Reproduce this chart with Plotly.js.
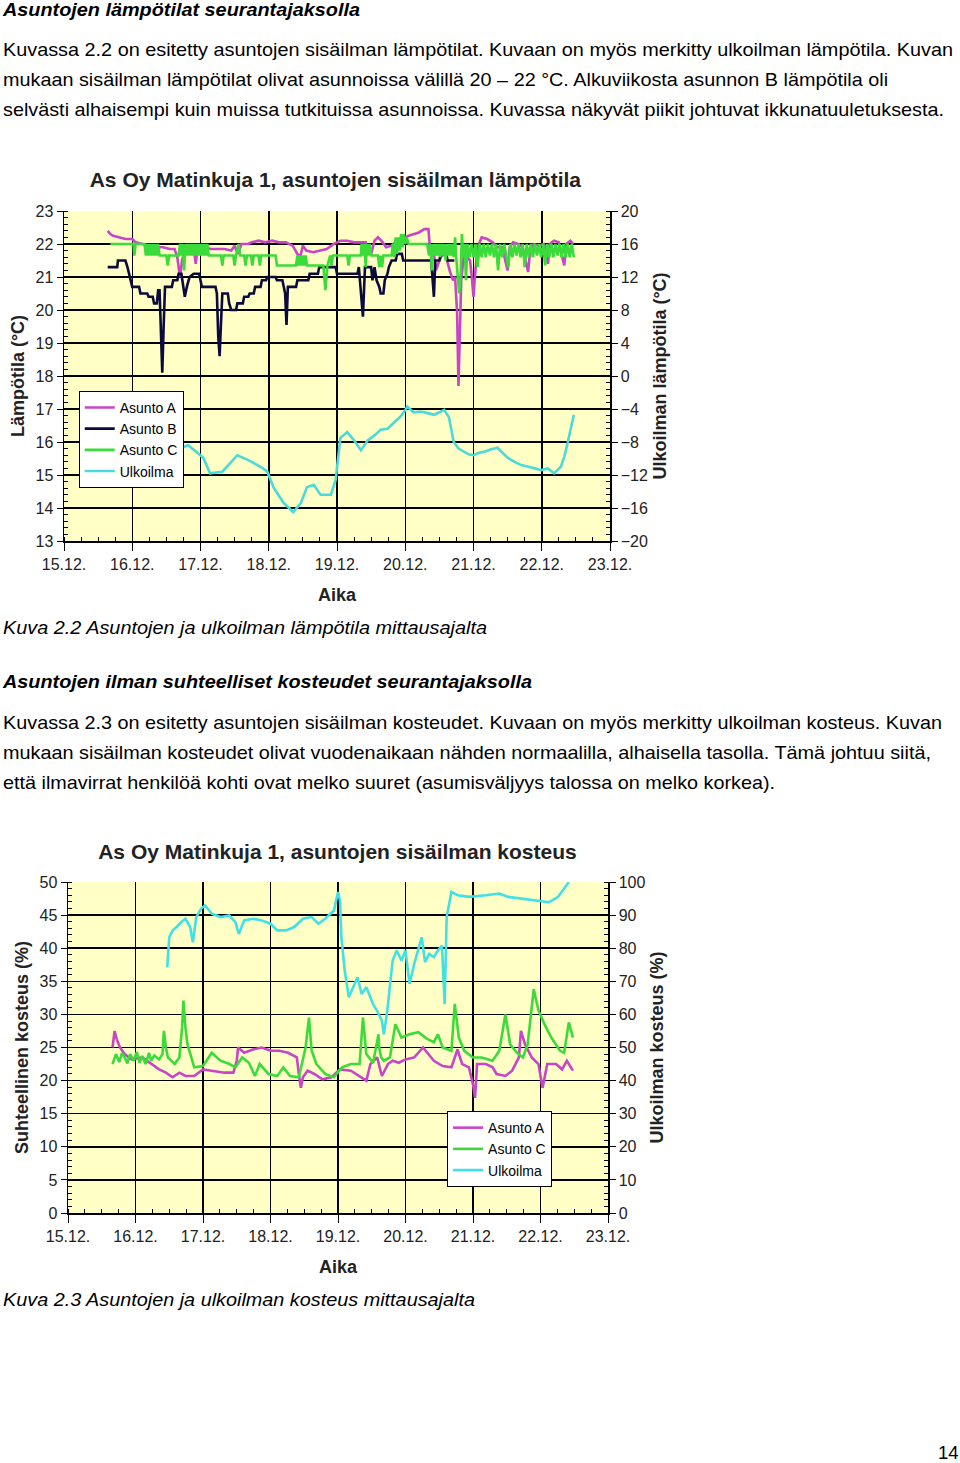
<!DOCTYPE html>
<html><head><meta charset="utf-8">
<script src="https://cdn.plot.ly/plotly-3.0.1.min.js"></script>
<style>
html,body{margin:0;padding:0;background:#fff;}
body{width:960px;height:1463px;position:relative;overflow:hidden;font-family:"Liberation Sans",Arial,sans-serif;color:#000;}
.ln{position:absolute;white-space:nowrap;font-size:18.5px;line-height:22px;height:22px;}
.ln span{display:inline-block;transform-origin:0 50%;}
.b{font-weight:bold;font-style:italic;}
.i{font-style:italic;}
#c1{position:absolute;left:0;top:160px;width:680px;height:450px;}
#c2{position:absolute;left:0;top:830px;width:680px;height:455px;}
</style></head><body>
<div id="c1"></div>
<div id="c2"></div>
<script>
// ---------- DATA ----------
const dayTicks = [15,16,17,18,19,20,21,22,23];
const dayLabels = ['15.12.','16.12.','17.12.','18.12.','19.12.','20.12.','21.12.','22.12.','23.12.'];
const seriesNames = ['Asunto A','Asunto B','Asunto C','Ulkoilma'];

// Temperature (°C), x = day of December
const tempA_x = [15.64,15.68,15.72,15.8,15.9,16.0,16.05,16.15,16.25,16.35,16.45,16.55,16.62,16.66,16.7,16.73,16.78,16.85,16.9,16.93,16.96,17.05,17.15,17.25,17.35,17.45,17.5,17.55,17.6,17.7,17.75,17.85,17.95,18.05,18.15,18.25,18.35,18.42,18.46,18.5,18.55,18.65,18.75,18.85,18.95,19.05,19.15,19.25,19.35,19.42,19.45,19.5,19.55,19.6,19.65,19.72,19.8,19.88,19.95,20.0,20.05,20.12,20.2,20.28,20.34,20.36,20.42,20.45,20.5,20.55,20.6,20.65,20.7,20.73,20.76,20.78,20.8,20.82,20.86,20.9,20.95,20.98,21.0,21.02,21.06,21.12,21.2,21.28,21.35,21.42,21.5,21.53,21.58,21.65,21.72,21.8,21.83,21.88,21.95,22.03,22.07,22.09,22.12,22.18,22.25,22.3,22.33,22.36,22.42,22.46];
const tempA_y = [22.4,22.3,22.25,22.2,22.15,22.15,22.05,22.0,21.95,21.9,21.9,21.85,21.85,21.6,21.0,21.5,21.9,21.9,21.95,21.4,21.9,21.9,21.85,21.85,21.85,21.8,21.95,21.7,22.0,22.0,22.05,22.1,22.05,22.1,22.05,22.05,21.95,21.7,21.6,21.95,21.8,21.75,21.8,21.85,22.0,22.1,22.1,22.05,22.05,22.05,21.75,21.7,22.1,22.2,22.1,21.9,21.95,22.1,22.2,22.2,22.25,22.3,22.35,22.45,22.45,21.9,21.7,21.2,21.5,21.7,21.6,21.2,20.9,21.0,19.9,17.7,19.0,20.9,21.7,21.6,21.5,20.9,20.4,21.0,21.9,22.2,22.15,22.05,21.9,21.9,21.2,21.9,22.05,22.0,21.9,21.15,21.8,22.0,21.95,22.0,21.8,21.4,22.0,22.1,22.05,21.6,21.35,22.0,22.1,22.0];

const tempB_x = [15.64,15.78,15.79,15.9,15.93,15.97,16.0,16.1,16.12,16.22,16.24,16.3,16.32,16.36,16.38,16.4,16.42,16.44,16.46,16.48,16.58,16.6,16.66,16.68,16.72,16.75,16.77,16.8,16.84,16.9,16.98,17.0,17.02,17.22,17.24,17.26,17.28,17.3,17.32,17.4,17.42,17.45,17.52,17.54,17.62,17.64,17.7,17.72,17.78,17.8,17.88,17.9,17.96,17.98,18.1,18.12,18.2,18.24,18.26,18.28,18.4,18.42,18.58,18.6,18.72,18.74,18.98,19.0,19.3,19.32,19.35,19.38,19.41,19.43,19.5,19.52,19.55,19.58,19.62,19.64,19.68,19.7,19.74,19.76,19.8,19.86,19.88,19.95,19.97,20.38,20.4,20.42,20.44,20.5,20.52,20.6,20.62,20.72];
const tempB_y = [21.3,21.3,21.5,21.5,21.3,20.9,20.7,20.7,20.5,20.5,20.4,20.4,20.2,20.2,20.6,20.6,19.3,18.1,19.5,20.7,20.7,20.9,20.9,21.1,21.1,20.6,20.4,20.7,21.0,21.1,21.1,20.9,20.7,20.7,20.5,19.2,18.6,19.6,20.5,20.5,20.2,20.0,20.0,20.2,20.2,20.4,20.4,20.5,20.5,20.7,20.7,20.9,20.9,21.0,21.0,20.9,20.9,20.5,19.55,20.7,20.7,20.9,20.9,21.1,21.1,21.3,21.3,21.1,21.1,21.3,20.5,19.8,21.3,21.3,21.3,20.9,21.3,20.9,20.7,20.5,20.5,20.9,21.1,21.3,21.5,21.5,21.7,21.7,21.5,21.5,20.9,20.4,21.5,21.5,21.7,21.7,21.5,21.5];

const tempC_x = [15.68,16.02,16.03,16.05,16.18,16.2,16.22,16.24,16.26,16.28,16.3,16.32,16.34,16.36,16.38,16.4,16.5,16.52,16.54,16.68,16.7,16.72,16.74,16.76,16.78,16.8,16.82,16.84,16.86,16.88,16.9,16.92,16.94,16.96,16.98,17.0,17.02,17.04,17.06,17.08,17.1,17.12,17.3,17.32,17.34,17.48,17.5,17.52,17.56,17.58,17.64,17.66,17.68,17.74,17.76,17.78,17.85,17.87,17.89,18.1,18.12,18.4,18.42,18.44,18.46,18.48,18.5,18.52,18.54,18.56,18.8,18.83,18.86,18.9,18.92,18.94,19.05,19.15,19.17,19.19,19.35,19.36,19.38,19.4,19.42,19.44,19.46,19.48,19.5,19.6,19.62,19.64,19.66,19.68,19.8,19.82,19.84,19.86,19.88,19.9,19.92,19.94,19.96,19.98,20.0,20.02,20.05,20.32,20.35,20.37,20.39,20.41,20.43,20.45,20.47,20.49,20.51,20.53,20.55,20.57,20.59,20.61,20.63,20.65,20.67,20.69,20.71,20.73,20.75,20.77,20.79,20.81,20.83,20.85,20.87,20.89,20.91,20.94,20.97,21.0,21.03,21.06,21.09,21.12,21.15,21.18,21.21,21.24,21.27,21.3,21.33,21.36,21.39,21.42,21.45,21.48,21.51,21.54,21.57,21.6,21.63,21.66,21.69,21.72,21.75,21.78,21.81,21.84,21.87,21.9,21.93,21.96,21.99,22.02,22.05,22.08,22.11,22.14,22.17,22.2,22.23,22.26,22.29,22.32,22.35,22.38,22.41,22.44,22.47];
const tempC_y = [22.0,22.0,21.65,22.0,22.0,21.65,22.0,21.65,22.0,21.65,22.0,21.65,22.0,21.65,22.0,21.65,21.65,21.35,21.65,21.65,22.0,21.65,22.0,21.2,22.0,21.65,22.0,21.65,22.0,21.65,22.0,21.65,22.0,21.65,22.0,21.65,22.0,21.65,22.0,21.65,22.0,21.65,21.65,21.35,21.65,21.65,21.35,21.65,22.0,21.65,21.65,21.35,21.65,21.65,21.35,21.65,21.65,21.35,21.65,21.65,21.35,21.35,21.65,21.35,21.65,21.35,21.65,21.35,21.65,21.35,21.35,20.6,21.35,21.65,21.35,21.65,21.65,21.65,21.35,21.65,21.65,22.0,21.65,22.0,21.3,22.0,21.65,22.0,21.65,21.65,21.3,21.65,21.3,21.65,21.65,22.0,21.6,22.2,21.7,22.2,21.8,22.3,21.9,22.3,22.0,22.2,22.0,22.0,21.65,22.0,21.2,22.0,21.65,22.0,21.65,22.0,21.6,22.0,21.65,22.0,21.5,22.0,21.65,22.0,21.65,22.0,21.6,22.2,21.5,20.9,20.5,21.0,22.3,21.6,22.0,20.9,22.0,21.6,22.0,21.6,22.0,21.3,22.0,21.6,22.0,21.6,22.0,21.65,22.0,21.6,22.0,21.2,22.0,21.6,22.0,21.65,21.3,22.0,21.6,22.0,21.65,22.0,21.6,22.0,21.3,22.0,21.6,22.0,21.6,22.0,21.65,22.0,21.6,22.0,21.35,22.0,21.6,22.0,21.6,22.0,21.65,22.0,21.6,22.0,21.6,22.0,21.6,22.0,21.6,22.0];

// Outdoor temperature (°C, right axis)
const tempO_x = [16.5,16.62,16.75,16.82,17.04,17.14,17.32,17.54,17.7,17.88,17.98,18.07,18.22,18.36,18.47,18.56,18.66,18.76,18.91,18.98,19.05,19.15,19.25,19.35,19.45,19.55,19.64,19.74,19.83,19.92,19.98,20.03,20.12,20.22,20.33,20.42,20.5,20.57,20.64,20.71,20.78,20.86,20.93,21.0,21.08,21.15,21.25,21.35,21.42,21.5,21.6,21.7,21.85,21.99,22.09,22.18,22.28,22.33,22.38,22.43,22.47];
const tempO_y = [-10.0,-9.2,-8.6,-8.4,-9.9,-11.8,-11.6,-9.6,-10.2,-11.0,-11.6,-13.5,-15.4,-16.5,-15.4,-13.5,-13.2,-14.4,-14.4,-12.6,-7.5,-6.8,-7.8,-9.0,-7.8,-7.2,-6.5,-6.4,-5.7,-5.0,-4.4,-3.7,-4.4,-4.3,-4.5,-4.7,-4.4,-4.1,-5.0,-8.0,-8.8,-9.2,-9.5,-9.6,-9.3,-9.2,-8.9,-8.7,-9.3,-9.9,-10.4,-10.8,-11.1,-11.4,-11.2,-11.8,-11.0,-9.8,-8.1,-6.2,-4.7];

// Humidity (%), indoor left axis
const humA_x = [15.66,15.69,15.72,15.77,15.84,15.94,16.1,16.25,16.35,16.45,16.55,16.65,16.74,16.87,17.0,17.13,17.32,17.45,17.5,17.52,17.61,17.74,17.87,18.0,18.13,18.26,18.39,18.42,18.45,18.48,18.55,18.65,18.77,18.9,19.03,19.19,19.32,19.42,19.48,19.58,19.65,19.74,19.81,19.9,20.0,20.13,20.26,20.32,20.42,20.55,20.68,20.77,20.84,20.94,21.0,21.03,21.06,21.19,21.29,21.35,21.48,21.58,21.68,21.71,21.77,21.87,21.97,22.03,22.1,22.23,22.32,22.39,22.48];
const humA_y = [25.0,27.5,26.3,25.0,24.0,23.2,23.5,22.5,21.7,21.2,20.5,21.2,20.7,20.7,21.7,21.5,21.2,21.2,23.0,25.0,24.2,24.7,25.0,24.5,24.5,24.2,23.5,21.0,18.9,20.5,21.5,21.0,20.2,20.5,21.7,21.5,20.7,20.0,22.5,23.5,20.7,22.5,23.0,22.7,23.2,23.5,25.0,24.2,23.0,22.2,22.0,24.7,22.5,22.0,19.4,17.4,22.5,22.5,22.0,21.0,20.7,21.5,23.5,27.5,25.5,23.5,22.5,18.9,22.5,22.5,21.7,23.0,21.5];

const humC_x = [15.66,15.71,15.76,15.8,15.84,15.88,15.92,15.97,16.02,16.06,16.1,16.15,16.2,16.23,16.28,16.35,16.4,16.42,16.45,16.48,16.58,16.65,16.69,16.71,16.74,16.77,16.87,17.0,17.13,17.26,17.39,17.48,17.58,17.68,17.77,17.84,17.97,18.1,18.19,18.29,18.42,18.52,18.57,18.61,18.68,18.81,18.94,19.06,19.19,19.32,19.37,19.42,19.52,19.6,19.61,19.64,19.68,19.77,19.85,19.94,20.06,20.19,20.32,20.42,20.48,20.55,20.68,20.73,20.79,20.87,21.0,21.13,21.29,21.39,21.48,21.55,21.65,21.74,21.81,21.9,21.97,22.06,22.16,22.29,22.35,22.42,22.48];
const humC_y = [22.5,24.0,22.8,24.2,23.5,22.6,24.0,23.0,24.3,22.7,23.7,22.5,24.2,23.0,23.8,23.2,24.0,27.5,25.0,23.5,22.5,23.5,28.0,32.1,28.0,25.5,22.0,22.2,24.2,23.0,22.5,22.0,23.5,22.7,20.7,22.5,21.0,20.7,22.0,20.7,20.5,25.0,29.5,24.5,22.5,21.0,20.5,22.0,22.5,22.5,29.5,24.0,22.7,27.0,25.0,23.5,23.0,23.5,28.5,26.5,27.0,27.3,26.3,25.8,27.0,25.0,24.5,31.6,26.5,24.5,23.5,23.5,23.0,24.5,30.0,25.5,24.2,23.5,25.5,33.8,30.6,28.5,26.5,24.5,24.2,28.8,26.5];

// Outdoor humidity (%), right axis
const humO_x = [16.47,16.5,16.55,16.61,16.68,16.74,16.81,16.85,16.9,16.97,17.03,17.13,17.26,17.39,17.48,17.53,17.61,17.74,17.87,18.0,18.1,18.23,18.35,18.48,18.61,18.71,18.81,18.94,19.0,19.03,19.05,19.1,19.16,19.23,19.29,19.35,19.42,19.52,19.58,19.65,19.68,19.73,19.77,19.81,19.87,19.94,20.0,20.06,20.13,20.19,20.24,20.29,20.35,20.42,20.48,20.54,20.58,20.61,20.68,20.77,20.94,21.19,21.39,21.52,21.71,21.9,22.13,22.26,22.35,22.42];
const humO_y = [74.2,83.3,85.4,86.4,87.9,88.9,86.4,81.8,89.4,91.9,92.9,90.4,89.4,89.9,87.9,84.3,88.4,88.9,88.4,87.4,85.4,85.4,86.4,88.9,89.4,87.4,88.9,91.4,97.0,94.4,83.3,73.2,65.2,68.2,71.2,66.2,68.2,63.1,61.1,58.1,54.0,61.1,69.2,76.3,79.3,76.3,79.3,69.2,75.3,79.3,83.3,75.8,78.3,77.3,79.3,80.8,63.1,89.4,97.0,96.0,95.5,96.0,96.5,95.5,95.0,94.4,93.9,95.5,98.0,100.0];

// ---------- STYLE ----------
const F = '"Liberation Sans", Arial, sans-serif';
const col = {A:'#C844C8', B:'#0A0A3C', C:'#3ADB3A', O:'#4ADADA'};

function line(x,y,name,c,ax){
  return {x:x,y:y,name:name,type:'scatter',mode:'lines',yaxis:ax,
    line:{color:c,width:2.6},hoverinfo:'skip'};
}
function xax(){
  return {range:[15,23],tickmode:'array',tickvals:dayTicks,ticktext:dayLabels,
    showgrid:true,gridcolor:'#000',gridwidth:1.5,zeroline:false,
    showline:true,linecolor:'#000',linewidth:1.5,ticks:'outside',ticklen:8,tickcolor:'#000',tickwidth:1,
    minor:{tickmode:'linear',tick0:15,dtick:0.25,ticks:'inside',ticklen:4,tickcolor:'#000',showgrid:false},
    tickfont:{family:F,size:16,color:'#222'},
    title:{text:'Aika',font:{family:F,size:18,weight:'bold',color:'#222'},standoff:16},fixedrange:true};
}
function yax(r,dt,mdt,title,side){
  const o = {range:r,dtick:dt,tick0:r[0],tickmode:'linear',zeroline:false,
    showline:true,linecolor:'#000',linewidth:1.5,ticks:'outside',ticklen:6,tickcolor:'#000',tickwidth:1,
    minor:{tickmode:'linear',tick0:r[0],dtick:mdt,ticks:'inside',ticklen:4,tickcolor:'#000',showgrid:false},
    tickfont:{family:F,size:16,color:'#222'},
    title:{text:title,font:{family:F,size:18,weight:'bold',color:'#222'},standoff:6},fixedrange:true};
  if(side==='right'){o.side='right';o.overlaying='y';o.showgrid=false;}
  else {o.showgrid=true;o.gridcolor='#000';o.gridwidth=1.5;}
  return o;
}
const legendStyle = {bgcolor:'#fff',bordercolor:'#000',borderwidth:1,font:{family:F,size:14,color:'#000'},
  xanchor:'left',yanchor:'top',tracegroupgap:0,itemwidth:30};

// ---------- CHART 1 ----------
const data1 = [
  line(tempA_x,tempA_y,seriesNames[0],col.A,'y'),
  line(tempB_x,tempB_y,seriesNames[1],col.B,'y'),
  line(tempC_x,tempC_y,seriesNames[2],col.C,'y'),
  line(tempO_x,tempO_y,seriesNames[3],col.O,'y2')
];
const layout1 = {
  width:680,height:450,margin:{l:64,r:70,t:51,b:69},
  paper_bgcolor:'#fff',plot_bgcolor:'#FFFFC6',
  title:{text:'As Oy Matinkuja 1, asuntojen sisäilman lämpötila',font:{family:F,size:21,weight:'bold',color:'#222'},
    x:0.497,xanchor:'center',xref:'paper',y:1-20/450,yanchor:'middle'},
  xaxis:xax(),
  yaxis:yax([13,23],1,0.2,'Lämpötila (°C)','left'),
  yaxis2:yax([-20,20],4,0.8,'Ulkoilman lämpötila (°C)','right'),
  legend:Object.assign({x:0.027,y:0.455},legendStyle),
  showlegend:true
};
Plotly.newPlot('c1',data1,layout1,{displayModeBar:false,staticPlot:true});

// ---------- CHART 2 ----------
const data2 = [
  line(humA_x,humA_y,seriesNames[0],col.A,'y'),
  line(humC_x,humC_y,seriesNames[2],col.C,'y'),
  line(humO_x,humO_y,seriesNames[3],'#3FE0E6','y2')
];
const layout2 = {
  width:680,height:455,margin:{l:68,r:72,t:52,b:72},
  paper_bgcolor:'#fff',plot_bgcolor:'#FFFFC6',
  title:{text:'As Oy Matinkuja 1, asuntojen sisäilman kosteus',font:{family:F,size:21,weight:'bold',color:'#222'},
    x:0.499,xanchor:'center',xref:'paper',y:1-22/455,yanchor:'middle'},
  xaxis:xax(),
  yaxis:yax([0,50],5,1,'Suhteellinen kosteus (%)','left'),
  yaxis2:yax([0,100],10,2,'Ulkoilman kosteus (%)','right'),
  legend:Object.assign({x:0.702,y:0.308},legendStyle),
  showlegend:true
};
Plotly.newPlot('c2',data2,layout2,{displayModeBar:false,staticPlot:true});

// ---------- PAGE TEXT ----------
const textLines = [
  ['Asuntojen lämpötilat seurantajaksolla','b',10,357],
  ['Kuvassa 2.2 on esitetty asuntojen sisäilman lämpötilat. Kuvaan on myös merkitty ulkoilman lämpötila. Kuvan','',50,950],
  ['mukaan sisäilman lämpötilat olivat asunnoissa välillä 20 – 22 °C. Alkuviikosta asunnon B lämpötila oli','',80,885],
  ['selvästi alhaisempi kuin muissa tutkituissa asunnoissa. Kuvassa näkyvät piikit johtuvat ikkunatuuletuksesta.','',110,941],
  ['Kuva 2.2 Asuntojen ja ulkoilman lämpötila mittausajalta','i',628,484],
  ['Asuntojen ilman suhteelliset kosteudet seurantajaksolla','b',682,529],
  ['Kuvassa 2.3 on esitetty asuntojen sisäilman kosteudet. Kuvaan on myös merkitty ulkoilman kosteus. Kuvan','',723,939],
  ['mukaan sisäilman kosteudet olivat vuodenaikaan nähden normaalilla, alhaisella tasolla. Tämä johtuu siitä,','',753,928],
  ['että ilmavirrat henkilöä kohti ovat melko suuret (asumisväljyys talossa on melko korkea).','',783,772],
  ['Kuva 2.3 Asuntojen ja ulkoilman kosteus mittausajalta','i',1300,472]
];
textLines.forEach(function(t){
  const d=document.createElement('div');d.className='ln '+t[1];
  d.style.left='3px';d.style.top=(t[2]-11)+'px';
  const s=document.createElement('span');s.textContent=t[0];d.appendChild(s);
  document.body.appendChild(d);
  const w=s.getBoundingClientRect().width;
  s.style.transform='scaleX('+(t[3]/w).toFixed(4)+')';
});
const pn=document.createElement('div');pn.className='ln';pn.style.left='938px';pn.style.top='1442px';pn.textContent='14';
document.body.appendChild(pn);
</script>
</body></html>
